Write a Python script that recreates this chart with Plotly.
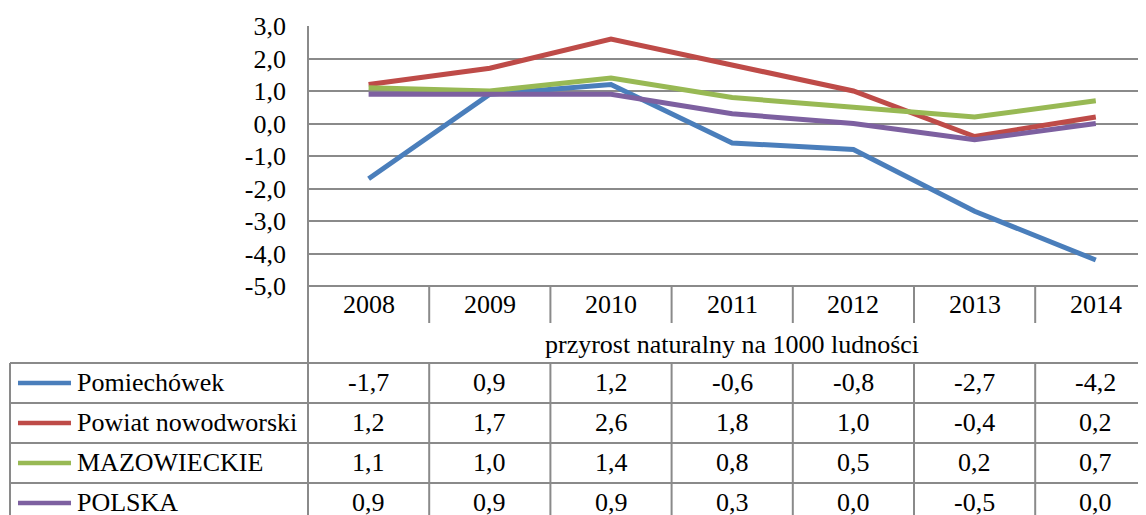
import plotly.graph_objects as go

categories = ["2008", "2009", "2010", "2011", "2012", "2013", "2014"]
series_names = ["Pomiechówek", "Powiat nowodworski", "MAZOWIECKIE", "POLSKA"]
pomiechowek = [-1.7, 0.9, 1.2, -0.6, -0.8, -2.7, -4.2]
powiat = [1.2, 1.7, 2.6, 1.8, 1.0, -0.4, 0.2]
mazowieckie = [1.1, 1.0, 1.4, 0.8, 0.5, 0.2, 0.7]
polska = [0.9, 0.9, 0.9, 0.3, 0.0, -0.5, 0.0]
y_ticks = [3, 2, 1, 0, -1, -2, -3, -4, -5]
table_title = "przyrost naturalny na 1000 ludności"

series_values = [pomiechowek, powiat, mazowieckie, polska]
colors = ["#4A7EBB", "#BE4B48", "#98B954", "#7D60A0"]

# page body has an 8px margin: shift the figure so that it lands where the reference is
OFF = 8
W, H = 1146 - OFF, 515 - OFF
L = 308 - OFF
T = 26 - OFF
AXIS_BOTTOM = 286  # reference pixel of the -5,0 line
B = H - (AXIS_BOTTOM - OFF)
PH = H - T - B
PW = W - L
COLW = 121.2
FONT = "Liberation Serif"
FS = 26
GRID = "#8A8A8A"
TXT = dict(family=FONT, size=FS, color="black")


def fx(px):
    return (px - OFF - L) / PW


def fy(py):
    return (H - B - (py - OFF)) / PH


def fmt(v):
    return f"{v:.1f}".replace(".", ",")


fig = go.Figure()
x = list(range(len(categories)))
for name, vals, c in zip(series_names, series_values, colors):
    fig.add_trace(go.Scatter(x=x, y=vals, mode="lines", name=name,
                             line=dict(color=c, width=5), showlegend=False))

header_top = AXIS_BOTTOM
header_bot = 323
title_bot = 363
row_h = 40
row_tops = [title_bot + i * row_h for i in range(len(series_names))]

def hline(x0, x1, y, color=GRID, width=2, xref="paper"):
    fig.add_shape(type="line", xref=xref, yref="paper", x0=x0, x1=x1, y0=y, y1=y,
                  line=dict(color=color, width=width))

def vline(x, y0, y1, xref="paper"):
    fig.add_shape(type="line", xref=xref, yref="paper", x0=x, x1=x, y0=y0, y1=y1,
                  line=dict(color=GRID, width=2))

hline(0, 1.05, fy(header_top))
for t in row_tops:
    hline(fx(10), 1.05, fy(t))
vline(0, 1, fy(530))
vline(fx(10), fy(title_bot), fy(530))
for k in range(len(categories)):
    vline(k + 0.5, fy(header_top), fy(header_bot), xref="x")
    vline(k + 0.5, fy(title_bot), fy(530), xref="x")

for i, c in enumerate(categories):
    fig.add_annotation(x=i, y=fy((header_top + header_bot) / 2), xref="x", yref="paper",
                       text=c, showarrow=False, font=TXT, xanchor="center", yanchor="middle")
fig.add_annotation(x=(len(categories) - 1) / 2, y=fy((header_bot + title_bot) / 2 + 1),
                   xref="x", yref="paper", text=table_title, showarrow=False, font=TXT,
                   xanchor="center", yanchor="middle")

for r, (name, vals, c) in enumerate(zip(series_names, series_values, colors)):
    yc = row_tops[r] + row_h / 2 - 1
    hline(fx(18), fx(71), fy(yc + 1), color=c, width=4.5)
    fig.add_annotation(x=fx(75), y=fy(yc), xref="paper", yref="paper", text=name,
                       showarrow=False, font=TXT, xanchor="left", yanchor="middle")
    for i, v in enumerate(vals):
        fig.add_annotation(x=i, y=fy(yc), xref="x", yref="paper", text=fmt(v),
                           showarrow=False, font=TXT, xanchor="center", yanchor="middle")

fig.update_layout(
    width=W, height=H,
    margin=dict(l=L, r=0, t=T, b=B, pad=0),
    paper_bgcolor="white", plot_bgcolor="white",
    xaxis=dict(range=[-0.5, -0.5 + PW / COLW], showgrid=False, zeroline=False,
               showticklabels=False, showline=False, ticks=""),
    yaxis=dict(range=[-5, 3], tickvals=y_ticks, ticktext=[fmt(v) for v in y_ticks],
               showgrid=True, gridcolor=GRID, gridwidth=2, zeroline=False,
               showline=False, ticks="", ticklabelstandoff=21, tickfont=TXT),
)

fig.write_html("out.html")
